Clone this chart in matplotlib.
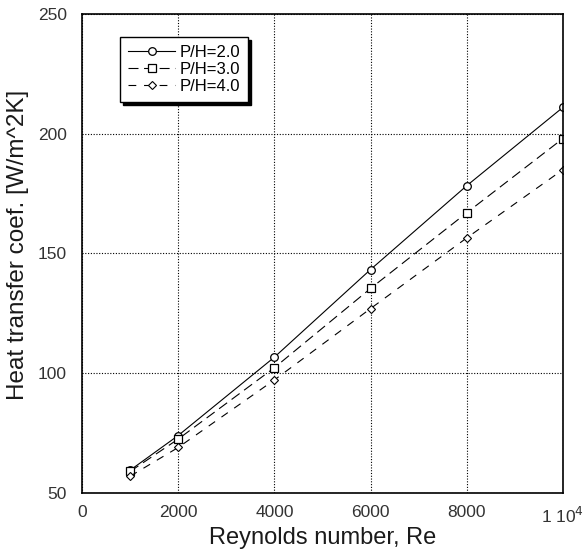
import matplotlib
matplotlib.use("Agg")
import matplotlib.pyplot as plt

plt.rcParams['font.family'] = ['Liberation Sans', 'DejaVu Sans']

re_vals = [1000, 2000, 4000, 6000, 8000, 10000]
h_ph2 = [59.5, 74.0, 106.7, 143.3, 178.3, 211.0]
h_ph3 = [59.0, 72.5, 102.3, 135.4, 167.0, 198.0]
h_ph4 = [57.0, 69.0, 97.2, 127.0, 156.5, 185.0]
labels = ['P/H=2.0', 'P/H=3.0', 'P/H=4.0']
x_ticks = [0, 2000, 4000, 6000, 8000, 10000]
x_ticklabels = ['0', '2000', '4000', '6000', '8000', '1 10$^4$']
y_ticks = [50, 100, 150, 200, 250]

fig = plt.figure(figsize=(5.87, 5.58), dpi=100)
ax = fig.add_axes([0.1397, 0.1165, 0.8193, 0.8585])

ax.plot(re_vals, h_ph2, color='black', lw=0.8, linestyle='-', marker='o',
        markersize=5.5, markerfacecolor='white', markeredgewidth=0.9, label=labels[0])
ax.plot(re_vals, h_ph3, color='black', lw=0.8, linestyle=(0, (9, 5)), marker='s',
        markersize=5.8, markerfacecolor='white', markeredgewidth=0.9, label=labels[1])
ax.plot(re_vals, h_ph4, color='black', lw=0.8, linestyle=(0, (7, 7)), marker='D',
        markersize=3.8, markerfacecolor='white', markeredgewidth=0.8, label=labels[2])

ax.set_xlim(0, 10000)
ax.set_ylim(50, 250)
ax.set_xticks(x_ticks)
ax.set_xticklabels(x_ticklabels)
ax.set_yticks(y_ticks)
ax.tick_params(direction='in', length=0, labelsize=12.5, colors='#333333')
ax.tick_params(axis='x', pad=9)
ax.tick_params(axis='y', pad=11)
for s in ax.spines.values():
    s.set_linewidth(1.2)

ax.grid(True, linestyle=(0, (1, 1.5)), color='black', lw=0.8)

ax.set_xlabel('Reynolds number, Re', fontsize=17, labelpad=1, color='#1a1a1a')
ax.set_ylabel('Heat transfer coef. [W/m^2K]', fontsize=17.5, color='#1a1a1a')
ax.yaxis.set_label_coords(-0.11, 0.518)

leg = ax.legend(loc='upper left', bbox_to_anchor=(0.079, 0.952), fontsize=12,
                fancybox=False, shadow={'color': 'black', 'alpha': 1.0},
                edgecolor='black', framealpha=1.0, handlelength=2.8,
                borderpad=0.5, labelspacing=0.1, handletextpad=0.25,
                borderaxespad=0.0)
leg.get_frame().set_linewidth(1.0)

fig.savefig('out.png', dpi=100)
